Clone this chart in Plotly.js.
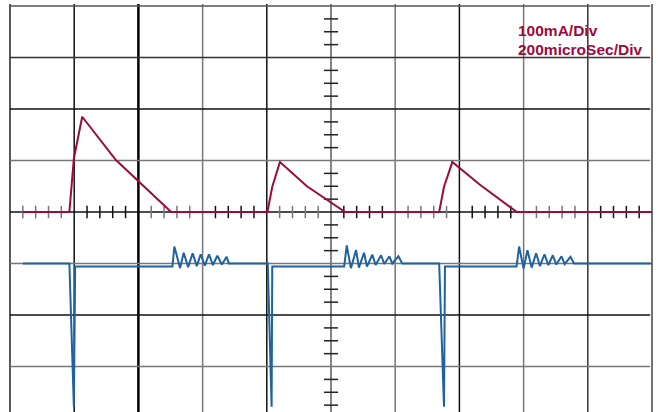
<!DOCTYPE html>
<html>
<head>
<meta charset="utf-8">
<script src="https://cdn.plot.ly/plotly-3.0.1.min.js"></script>
<style>html,body{margin:0;padding:0;background:#fff;}#chart{width:658px;height:412px;}</style>
</head>
<body>
<div id="chart"></div>
<script>
// Time in microseconds (200 µs per division), current in mA (100 mA per division)
const currentTimeUs = [-960, -815, -801, -775, -670, -498, -198, -183, -159, -75, 44, 337, 352, 378, 462, 579, 1000];
const currentMA     = [0, 0, 104, 185, 101, 0, 0, 49, 97, 50, 0, 0, 49, 97, 54, 0, 0];

// Second channel, plotted on the same division scale (one division = 100 units)
const voltageTimeUs = [-960, -815, -801, -797, -494, -488, -470, -459, -445, -431, -418, -406, -393, -380, -368, -354, -340, -325, -318,
  -197, -185, -183, 41, 49, 62, 78, 87, 103, 112, 129, 139, 156, 166, 182, 191, 210, 222,
  337, 352, 355, 578, 586, 600, 612, 625, 639, 651, 665, 677, 691, 702, 718, 728, 746, 757, 1000];
const voltageDiv = [-100, -100, -378, -106, -106, -67, -109, -79, -107, -80, -105, -82, -104, -82, -103, -85, -102, -87, -100,
  -100, -378, -106, -106, -65, -109, -74, -108, -79, -106, -83, -103, -84, -101, -86, -100, -86, -100,
  -100, -378, -106, -106, -67, -110, -74, -108, -80, -105, -82, -103, -84, -102, -86, -101, -87, -100, -100];

const scaleLabels = ["100mA/Div", "200microSec/Div"];

// grid divisions
const xDivs = [-1000, -800, -600, -400, -200, 0, 200, 400, 600, 800, 1000];
const yDivs = [400, 300, 200, 100, 0, -100, -200, -300];
const xDivColors = ["#222", "#111", "#000", "#777", "#111", "#777", "#777", "#111", "#777", "#333", "#444"];
const xDivWidths = [1.5, 1.5, 2.5, 1.5, 1.5, 1.8, 1.5, 1.5, 1.5, 1.5, 1.5];
const yDivColors = ["#555", "#333", "#111", "#777", "#111", "#777", "#111", "#777"];

const RED = "#9c0a3e";
const BLUE = "#1f62a0";

const shapes = [];
xDivs.forEach((v, i) => shapes.push({type: "line", xref: "x", yref: "paper", x0: v, x1: v, y0: 0, y1: 1,
  line: {color: xDivColors[i], width: xDivWidths[i]}, layer: "below"}));
yDivs.forEach((v, i) => shapes.push({type: "line", xref: "paper", yref: "y", x0: 0.003, x1: 0.994, y0: v, y1: v,
  line: {color: yDivColors[i], width: 1.5}, layer: "below"}));
// minor ticks on centre horizontal axis (5 per division)
for (let k = -24; k <= 24; k++) {
  if (k % 5 === 0) continue;
  const t = k * 40;
  const grp = Math.floor((k + 25) / 5);
  shapes.push({type: "line", xref: "x", yref: "y", x0: t, x1: t, y0: -12, y1: 12,
    line: {color: grp % 2 === 0 ? "#777" : "#111", width: 1.5}, layer: "below"});
}
// minor ticks on centre vertical axis (4 per division)
for (let k = -15; k <= 15; k++) {
  if (k % 4 === 0) continue;
  const v = k * 25;
  shapes.push({type: "line", xref: "x", yref: "y", x0: -22, x1: 22, y0: v, y1: v,
    line: {color: "#222", width: 1.5}, layer: "below"});
}

const traces = [
  {type: "scatter", mode: "lines", x: currentTimeUs, y: currentMA, name: "Current",
   line: {color: RED, width: 2}, hoverinfo: "skip"},
  {type: "scatter", mode: "lines", x: voltageTimeUs, y: voltageDiv, name: "Voltage",
   line: {color: BLUE, width: 2}, hoverinfo: "skip"}
];

const layout = {
  width: 658, height: 412,
  margin: {l: 8, r: 4, t: 4, b: 0, pad: 0},
  paper_bgcolor: "#fff", plot_bgcolor: "#fff",
  showlegend: false,
  xaxis: {range: [-1006.2, 1006.2], showgrid: false, zeroline: false, showticklabels: false, ticks: "", showline: false, fixedrange: true},
  yaxis: {range: [-388.3, 403.9], showgrid: false, zeroline: false, showticklabels: false, ticks: "", showline: false, fixedrange: true},
  shapes: shapes,
  annotations: [
    {xref: "x", yref: "y", x: 577, y: 352, xanchor: "left", yanchor: "middle", text: "<b>" + scaleLabels[0] + "</b>", showarrow: false,
     font: {family: "Liberation Sans, Arial, sans-serif", size: 15.5, color: RED}},
    {xref: "x", yref: "y", x: 577, y: 316, xanchor: "left", yanchor: "middle", text: "<b>" + scaleLabels[1] + "</b>", showarrow: false,
     font: {family: "Liberation Sans, Arial, sans-serif", size: 15.5, color: RED}}
  ]
};

Plotly.newPlot("chart", traces, layout, {displayModeBar: false, staticPlot: true});
</script>
</body>
</html>
